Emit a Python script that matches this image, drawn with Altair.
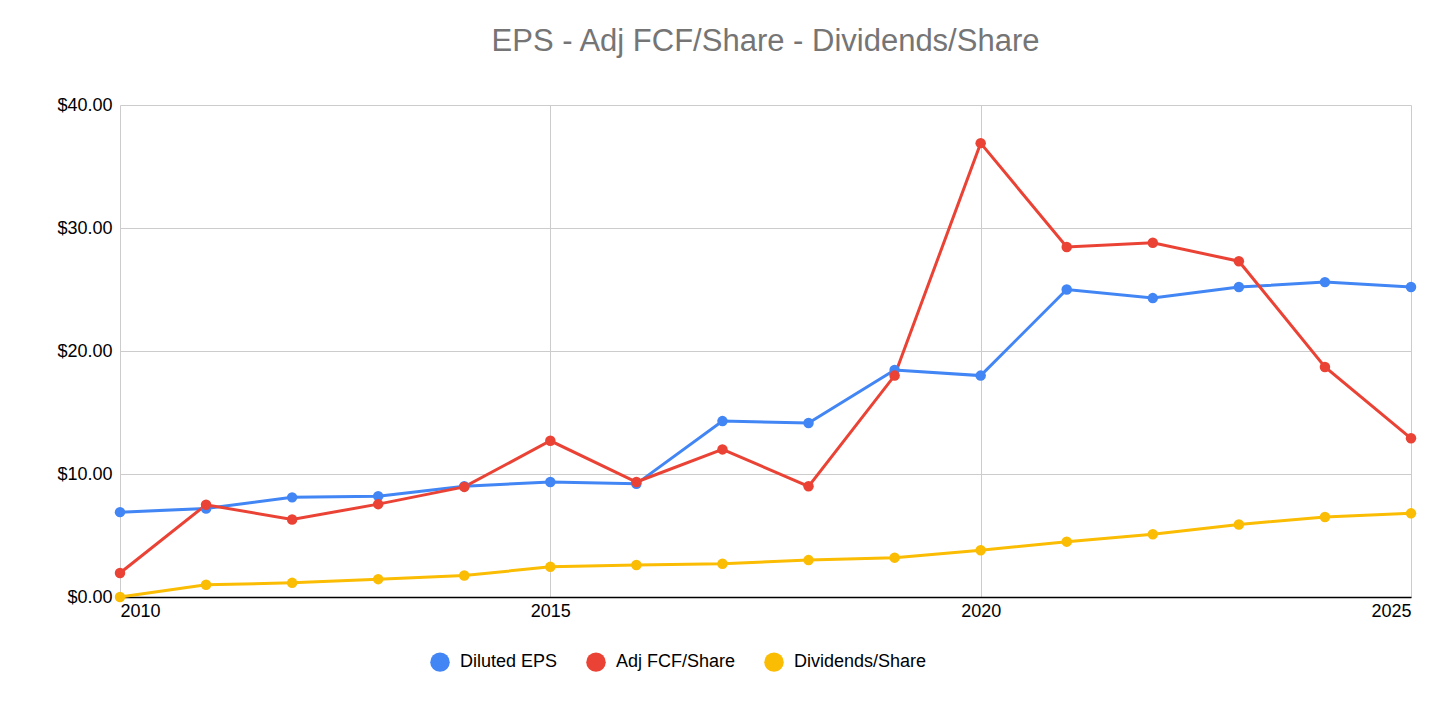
import altair as alt
import pandas as pd

years = list(range(2010, 2026))
eps = [6.9, 7.2, 8.1, 8.2, 9.0, 9.35, 9.2, 14.3, 14.15, 18.45, 18.0, 25.0, 24.3, 25.2, 25.6, 25.2]
fcf = [1.95, 7.5, 6.3, 7.55, 8.95, 12.7, 9.35, 12.0, 9.0, 18.0, 36.9, 28.45, 28.8, 27.3, 18.7, 12.9]
divs = [0.0, 1.0, 1.15, 1.45, 1.75, 2.45, 2.6, 2.7, 3.0, 3.2, 3.8, 4.5, 5.1, 5.9, 6.5, 6.8]

series = ["Diluted EPS", "Adj FCF/Share", "Dividends/Share"]
colors = ["#4285F4", "#EA4335", "#FBBC04"]

rows = []
for name, vals in zip(series, [eps, fcf, divs]):
    for y, v in zip(years, vals):
        rows.append({"year": y, "value": v, "series": name})
df = pd.DataFrame(rows)

base = alt.Chart(df).encode(
    x=alt.X("year:Q", title=None, scale=alt.Scale(domain=[2010, 2025], nice=False),
            axis=alt.Axis(values=[2010, 2015, 2020, 2025], format="d", labelFontSize=18,
                          labelColor="#000", domainColor="#000", domainWidth=1.5,
                          ticks=False, labelPadding=5, gridColor="#ccc")),
    y=alt.Y("value:Q", title=None, scale=alt.Scale(domain=[0, 40]),
            axis=alt.Axis(values=[0, 10, 20, 30, 40], format="$,.2f", labelFontSize=18,
                          labelColor="#000", domain=False, ticks=False, labelPadding=8,
                          gridColor="#ccc")),
    color=alt.Color("series:N", sort=series,
                    scale=alt.Scale(domain=series, range=colors),
                    legend=alt.Legend(orient="none", legendX=310, legendY=547,
                                      direction="horizontal", title=None, labelFontSize=18,
                                      symbolType="circle", symbolSize=380, symbolOpacity=1,
                                      symbolStrokeWidth=0, columnPadding=28, labelOffset=10)),
)

chart = (
    base.mark_line(strokeWidth=3) + base.mark_circle(size=110, opacity=1)
).properties(
    width=1291, height=492,
    autosize=alt.AutoSizeParams(type="none"),
    title=alt.TitleParams("EPS - Adj FCF/Share - Dividends/Share", fontSize=31,
                          fontWeight="normal", color="#757575", offset=38),
    padding={"left": 112, "top": 97, "right": 37, "bottom": 100},
).configure(font="Liberation Sans").configure_view(stroke=None)

chart.save("out.html", embed_options={"renderer": "svg", "actions": False})
